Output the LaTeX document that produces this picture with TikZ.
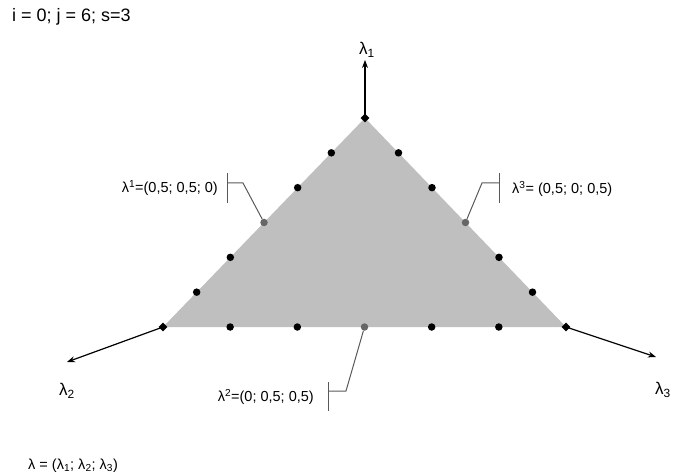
\documentclass[tikz,border=0pt]{standalone}
\usepackage{fontspec}
\setmainfont{Liberation Sans}
\usetikzlibrary{arrows.meta, calc, shapes.geometric}
\tikzset{
    dot/.style={circle, fill=black, inner sep=0pt, minimum size=7.5pt},
    middot/.style={circle, fill=black!60, inner sep=0pt, minimum size=7.5pt},
    vertex/.style={diamond, fill=black, inner sep=0pt, minimum size=9pt},
    axis/.style={-{Stealth[length=8pt, width=6pt]}, line width=1.2pt},
    callout/.style={draw=black!65, line width=1pt},
    lab/.style={font=\fontsize{14.5}{16}\selectfont, inner sep=0pt},
    axlab/.style={font=\fontsize{17}{19}\selectfont, inner sep=0pt}
}

\begin{document}
\begin{tikzpicture}[x=1pt, y=-1pt]
    \useasboundingbox (0,0) rectangle (673,476);
    % corners of the simplex
    \coordinate (A) at (365,118);
    \coordinate (B) at (163,327);
    \coordinate (C) at (566,327);
    \fill[black!25] (A) -- (B) -- (C) -- cycle;

    % axes
    \coordinate (t1) at (365,60);
    \coordinate (t2) at (67,362);
    \coordinate (t3) at (656,357);
    \draw[axis] (A) -- (t1);
    \draw[axis] (B) -- (t2);
    \draw[axis] (C) -- (t3);
    \node[vertex] (va) at (A) {};
    \node[vertex] (vb) at (B) {};
    \node[vertex] (vc) at (C) {};
    \node[axlab] (x1) at (367,50) {λ\textsubscript{1}};
    \node[axlab] (x2) at (67,391) {λ\textsubscript{2}};
    \node[axlab] (x3) at (663,390) {λ\textsubscript{3}};

    % grid points on the edges
    \foreach \k in {1,2,4,5} {
        \node[dot] (ab\k) at ($(A)!\k/6!(B)$) {};
        \node[dot] (ac\k) at ($(A)!\k/6!(C)$) {};
        \node[dot] (bc\k) at ($(B)!\k/6!(C)$) {};
    }
    \node[middot] (m1) at ($(A)!0.5!(B)$) {};
    \node[middot] (m2) at ($(B)!0.5!(C)$) {};
    \node[middot] (m3) at ($(A)!0.5!(C)$) {};

    % callouts
    \coordinate (k1) at (243,183);
    \coordinate (h1) at (227,183);
    \draw[callout] (m1) -- (k1) -- (h1);
    \draw[callout] (227,173) -- (227,203);
    \node[lab, anchor=east] (l1) at (218,188) {λ\textsuperscript{1}=(0,5; 0,5; 0)};

    \coordinate (k3) at (482,183);
    \coordinate (h3) at (499,183);
    \draw[callout] (m3) -- (k3) -- (h3);
    \draw[callout] (499,173) -- (499,203);
    \node[lab, anchor=west] (l3) at (512,189) {λ\textsuperscript{3}= (0,5; 0; 0,5)};

    \coordinate (k2) at (346,391);
    \coordinate (h2) at (328,391);
    \draw[callout] (m2) -- (k2) -- (h2);
    \draw[callout] (328,382) -- (328,411);
    \node[lab, anchor=east] (l2) at (314,397) {λ\textsuperscript{2}=(0; 0,5; 0,5)};

    % header and footer
    \node[font=\fontsize{18}{20}\selectfont, inner sep=0pt, anchor=west] (hd) at (12,17) {i = 0; j = 6; s=3};
    \node[lab, anchor=west] (ft) at (28,466) {λ = (λ\textsubscript{1}; λ\textsubscript{2}; λ\textsubscript{3})};
\end{tikzpicture}
\end{document}
